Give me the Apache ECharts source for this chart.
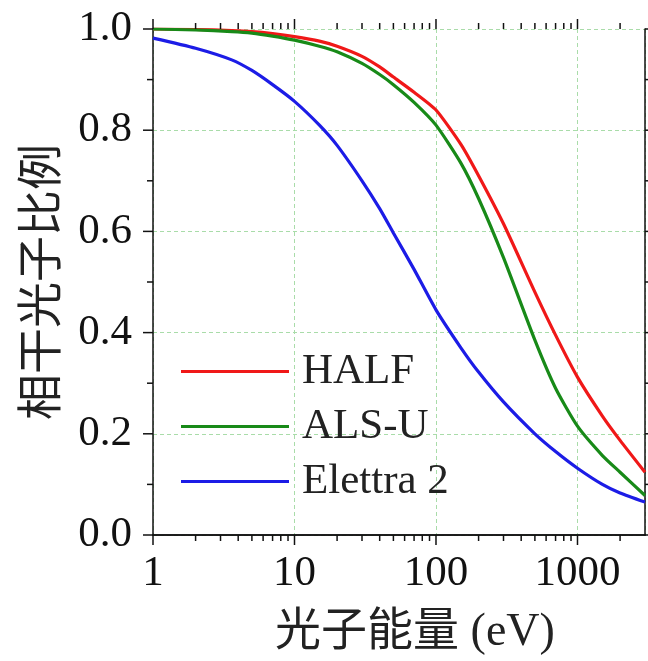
<!DOCTYPE html>
<html>
<head>
<meta charset="utf-8">
<script src="https://cdn.jsdelivr.net/npm/echarts@6/dist/echarts.min.js"></script>
<style>
  html, body { margin: 0; padding: 0; background: #fff; }
  #chart { width: 648px; height: 661px; }
</style>
</head>
<body>
<div id="chart"></div>
<script>
// Photon energy (eV) sample points
const energies = [1, 2, 3.6, 5, 7, 10, 15, 20, 30, 40, 50, 70, 100, 150, 200, 300, 500, 700, 1000, 1500, 2000, 3000];
// Coherent photon fraction per light source
const halfValues    = [1.0, 0.999, 0.997, 0.995, 0.991, 0.985, 0.976, 0.966, 0.946, 0.925, 0.905, 0.875, 0.84, 0.772, 0.71, 0.615, 0.48, 0.395, 0.312, 0.235, 0.187, 0.124];
const alsuValues    = [1.0, 0.998, 0.995, 0.992, 0.986, 0.978, 0.966, 0.955, 0.932, 0.91, 0.89, 0.855, 0.81, 0.735, 0.665, 0.548, 0.385, 0.29, 0.215, 0.157, 0.124, 0.078];
const elettraValues = [0.982, 0.962, 0.939, 0.918, 0.89, 0.857, 0.81, 0.77, 0.70, 0.645, 0.597, 0.525, 0.445, 0.37, 0.322, 0.263, 0.20, 0.165, 0.132, 0.10, 0.083, 0.065];

const seriesNames = ['HALF', 'ALS-U', 'Elettra 2'];
const xMajorTicks = [1, 10, 100, 1000];
const xMinorTicks = [2, 3, 4, 5, 6, 7, 8, 9, 20, 30, 40, 50, 60, 70, 80, 90, 200, 300, 400, 500, 600, 700, 800, 900, 2000];
const yMajorTicks = [0, 0.2, 0.4, 0.6, 0.8, 1.0];
const yMinorTicks = [0.1, 0.3, 0.5, 0.7, 0.9];
const xMin = 1, xMax = 3000;

const serifFont = '"Liberation Serif", "Times New Roman", "Noto Sans CJK SC", serif';
const inkColor = '#111';
const gridColor = '#a9dca9';

function pair(xs, ys) { return xs.map((x, i) => [x, ys[i]]); }

// Ticks on all four sides of the frame, placed through the axis scales
function xTickRenderer(len) {
  return function (params, api) {
    const v = api.value(0);
    const b = api.coord([v, 0]);
    const t = api.coord([v, 1]);
    const st = { stroke: inkColor, lineWidth: 1.5 };
    return { type: 'group', children: [
      { type: 'line', shape: { x1: b[0], y1: b[1], x2: b[0], y2: b[1] + len }, style: st },
      { type: 'line', shape: { x1: t[0], y1: t[1], x2: t[0], y2: t[1] - len }, style: st }
    ]};
  };
}
function yTickRenderer(len) {
  return function (params, api) {
    const v = api.value(1);
    const l = api.coord([xMin, v]);
    const r = api.coord([xMax, v]);
    const st = { stroke: inkColor, lineWidth: 1.5 };
    return { type: 'group', children: [
      { type: 'line', shape: { x1: l[0], y1: l[1], x2: l[0] - len, y2: l[1] }, style: st },
      { type: 'line', shape: { x1: r[0], y1: r[1], x2: r[0] + len, y2: r[1] }, style: st }
    ]};
  };
}
function tickSeries(data, renderer) {
  return { type: 'custom', silent: true, clip: false, z: 5, renderItem: renderer, data: data, legendHoverLink: false, tooltip: { show: false } };
}

const lineColors = ['#f01818', '#188a18', '#1c1ce6'];
const lineData = [halfValues, alsuValues, elettraValues];

const chart = echarts.init(document.getElementById('chart'), null, { renderer: 'canvas' });
chart.setOption({
  animation: false,
  backgroundColor: '#fff',
  grid: { left: 153, right: 3, top: 29, bottom: 123, containLabel: false },
  legend: {
    data: seriesNames,
    orient: 'vertical',
    left: 176,
    top: 345,
    icon: 'rect',
    itemWidth: 108,
    itemHeight: 3,
    itemGap: 12,
    textStyle: { fontFamily: serifFont, fontSize: 43, color: '#222', lineHeight: 43, padding: [0, 0, 0, 8] }
  },
  xAxis: [
    {
      type: 'log', logBase: 10, min: xMin, max: xMax, position: 'bottom',
      axisLine: { show: true, lineStyle: { color: inkColor, width: 1.5 } },
      axisTick: { show: false },
      axisLabel: {
        margin: 17, showMaxLabel: false,
        fontFamily: serifFont, fontSize: 43, color: inkColor,
        formatter: v => (xMajorTicks.indexOf(Math.round(v)) >= 0 ? String(Math.round(v)) : '')
      },
      splitLine: { show: true, lineStyle: { color: gridColor, width: 1, type: [4, 3] } },
      name: '光子能量 (eV)', nameLocation: 'middle', nameGap: 75,
      nameTextStyle: { fontFamily: serifFont, fontSize: 46, color: '#222', padding: [0, 0, 0, 32] }
    },
    {
      type: 'log', logBase: 10, min: xMin, max: xMax, position: 'top',
      axisLine: { show: true, lineStyle: { color: inkColor, width: 1.5 } },
      axisTick: { show: false }, axisLabel: { show: false }, splitLine: { show: false }
    }
  ],
  yAxis: [
    {
      type: 'value', min: 0, max: 1, interval: 0.2, position: 'left',
      axisLine: { show: true, lineStyle: { color: inkColor, width: 1.5 } },
      axisTick: { show: false },
      axisLabel: { margin: 21, fontFamily: serifFont, fontSize: 43, color: inkColor, formatter: v => v.toFixed(1) },
      splitLine: { show: true, lineStyle: { color: gridColor, width: 1, type: [4, 3] } },
      name: '相干光子比例', nameLocation: 'middle', nameGap: 86,
      nameTextStyle: { fontFamily: serifFont, fontSize: 46, color: '#222' }
    },
    {
      type: 'value', min: 0, max: 1, interval: 0.2, position: 'right',
      axisLine: { show: true, lineStyle: { color: inkColor, width: 1.5 } },
      axisTick: { show: false }, axisLabel: { show: false }, splitLine: { show: false }
    }
  ],
  series: seriesNames.map((name, i) => ({
    name: name,
    type: 'line',
    xAxisIndex: 0, yAxisIndex: 0,
    data: pair(energies, lineData[i]),
    symbol: 'none',
    smooth: 0.2,
    z: 3,
    color: lineColors[i],
    lineStyle: { color: lineColors[i], width: 3.2 }
  })).concat([
    tickSeries(xMajorTicks.map(v => [v, 0]), xTickRenderer(10)),
    tickSeries(xMinorTicks.map(v => [v, 0]), xTickRenderer(6)),
    tickSeries(yMajorTicks.map(v => [xMin, v]), yTickRenderer(10)),
    tickSeries(yMinorTicks.map(v => [xMin, v]), yTickRenderer(6))
  ])
});
</script>
</body>
</html>
